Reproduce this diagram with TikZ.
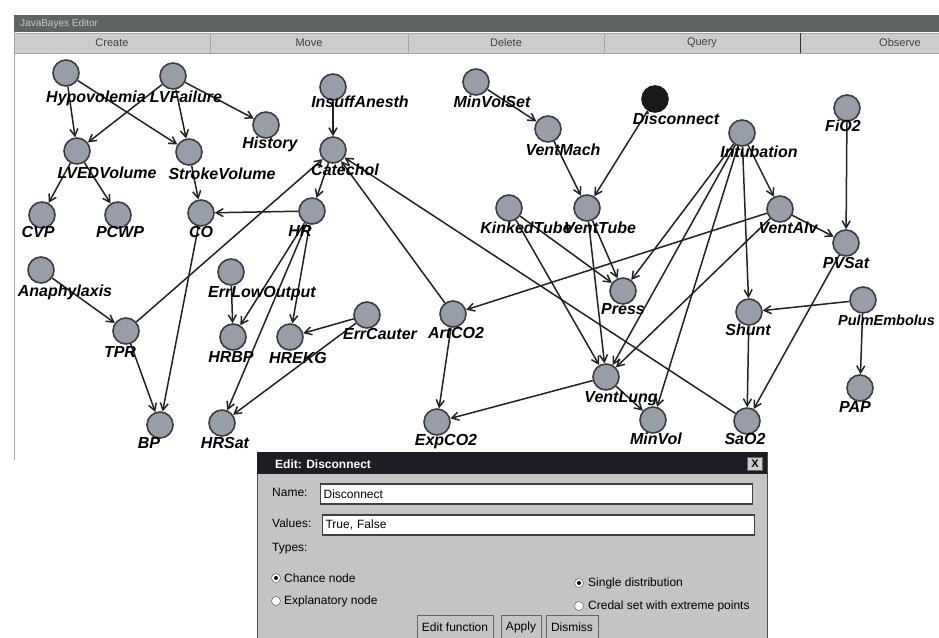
\documentclass[tikz,border=0pt]{standalone}
\usepackage{fontspec}
\setmainfont{Liberation Sans}
\usepackage{tikz}
\usetikzlibrary{arrows.meta}

\definecolor{bnfill}{RGB}{152,158,168}
\definecolor{bnline}{RGB}{58,62,68}
\definecolor{bnblack}{RGB}{25,25,28}
\definecolor{edgecol}{RGB}{34,34,36}
\definecolor{winbar}{RGB}{96,100,100}
\definecolor{btnface}{RGB}{202,204,206}
\definecolor{dlgbar}{RGB}{28,30,36}
\definecolor{dlgface}{RGB}{194,196,198}

\begin{document}
\begin{tikzpicture}[x=1pt, y=-1pt,
  bn/.style={circle, draw=bnline, fill=bnfill, line width=1.6pt,
             minimum size=26pt, inner sep=0pt},
  obs/.style={bn, draw=bnblack, fill=bnblack},
  lbl/.style={font=\fontsize{16}{16}\selectfont\bfseries\itshape,
              inner sep=0pt, text height=11.5pt, text depth=0pt},
  arr/.style={-{Straight Barb[length=7pt, width=8pt]}, line width=1.5pt, edgecol},
  tbtn/.style={draw=gray!70, fill=btnface, minimum height=20pt, inner sep=0pt,
               font=\fontsize{11}{11}\selectfont, text=black!75},
  dtxt/.style={font=\fontsize{12}{12}\selectfont, inner sep=0pt, anchor=west},
  field/.style={dtxt, draw=black!75, fill=white, line width=1.2pt,
                minimum height=20pt, text width=426pt, inner xsep=3pt},
  radio/.style={circle, draw=black!70, fill=white, minimum size=9pt, inner sep=0pt},
  dot/.style={circle, fill=black, minimum size=4pt, inner sep=0pt},
  dbtn/.style={draw=black!60, fill=dlgface, minimum height=24pt, inner xsep=5pt,
               font=\fontsize{12}{12}\selectfont}]
\useasboundingbox (0,0) rectangle (939,637);
\fill[white] (0,0) rectangle (939,637);
% ---- editor window ----
\draw[gray!70, line width=1pt] (14,15) -- (14,460);
\node[fill=winbar, minimum width=925pt, minimum height=17pt, inner sep=0pt,
      anchor=north west] (titlebar) at (14,15) {};
\node[dtxt, font=\fontsize{10}{10}\selectfont, text=gray!45] (title)
  at (20,24) {JavaBayes Editor};
\node[tbtn, minimum width=196pt] (create) at (112,43) {Create};
\node[tbtn, minimum width=198pt] (move) at (309,43) {Move};
\node[tbtn, minimum width=196pt] (delete) at (506,43) {Delete};
\node[tbtn, minimum width=196pt] (query) at (702,43) {Query};
\node[fill=btnface, minimum width=139pt, minimum height=20pt, inner sep=0pt,
      anchor=west] (observe-bg) at (800,43) {};
\draw[gray!70] (observe-bg.north west) -- (observe-bg.north east);
\draw[gray!70] (observe-bg.south west) -- (observe-bg.south east);
\draw[black!80, line width=1pt] (observe-bg.north west) -- (observe-bg.south west);
\node[font=\fontsize{11}{11}\selectfont, text=black!75] (observe) at (900,43) {Observe};
% ---- network nodes ----
\node[bn] (hypo) at (66,73) {};
\node[bn] (lvf) at (173,76) {};
\node[bn] (hist) at (266,125) {};
\node[bn] (insuff) at (333,87) {};
\node[bn] (mvs) at (476,82) {};
\node[bn] (vmach) at (548,129) {};
\node[obs] (disc) at (655,99) {};
\node[bn] (fio2) at (847,108) {};
\node[bn] (intub) at (742,133) {};
\node[bn] (lved) at (77,151) {};
\node[bn] (stroke) at (189,152) {};
\node[bn] (cat) at (333,150) {};
\node[bn] (cvp) at (42,215) {};
\node[bn] (pcwp) at (118,215) {};
\node[bn] (co) at (201,213) {};
\node[bn] (hr) at (312,211) {};
\node[bn] (kink) at (509,208) {};
\node[bn] (vtube) at (587,208) {};
\node[bn] (valv) at (780,209) {};
\node[bn] (pvsat) at (846,243) {};
\node[bn] (ana) at (41,270) {};
\node[bn] (errlow) at (231,272) {};
\node[bn] (press) at (623,291) {};
\node[bn] (errc) at (367,315) {};
\node[bn] (art) at (453,314) {};
\node[bn] (shunt) at (749,312) {};
\node[bn] (pe) at (863,300) {};
\node[bn] (tpr) at (126,331) {};
\node[bn] (hrbp) at (233,337) {};
\node[bn] (hrekg) at (290,337) {};
\node[bn] (vlung) at (606,377) {};
\node[bn] (pap) at (860,388) {};
\node[bn] (bp) at (160,425) {};
\node[bn] (hrsat) at (222,423) {};
\node[bn] (exp) at (437,422) {};
\node[bn] (minvol) at (653,420) {};
\node[bn] (sao2) at (747,421) {};
% ---- arcs ----
\draw[arr] (hypo) -- (lved);
\draw[arr] (hypo) -- (stroke);
\draw[arr] (lvf) -- (lved);
\draw[arr] (lvf) -- (stroke);
\draw[arr] (lvf) -- (hist);
\draw[arr] (lved) -- (cvp);
\draw[arr] (lved) -- (pcwp);
\draw[arr] (stroke) -- (co);
\draw[arr] (hr) -- (co);
\draw[arr] (insuff) -- (cat);
\draw[arr] (cat) -- (hr);
\draw[arr] (tpr) -- (cat);
\draw[arr] (art) -- (cat);
\draw[arr] (sao2) -- (cat);
\draw[arr] (ana) -- (tpr);
\draw[arr] (tpr) -- (bp);
\draw[arr] (co) -- (bp);
\draw[arr] (hr) -- (hrbp);
\draw[arr] (hr) -- (hrekg);
\draw[arr] (hr) -- (hrsat);
\draw[arr] (errlow) -- (hrbp);
\draw[arr] (errc) -- (hrekg);
\draw[arr] (errc) -- (hrsat);
\draw[arr] (mvs) -- (vmach);
\draw[arr] (vmach) -- (vtube);
\draw[arr] (disc) -- (vtube);
\draw[arr] (vtube) -- (press);
\draw[arr] (vtube) -- (vlung);
\draw[arr] (kink) -- (press);
\draw[arr] (kink) -- (vlung);
\draw[arr] (intub) -- (press);
\draw[arr] (intub) -- (vlung);
\draw[arr] (intub) -- (minvol);
\draw[arr] (intub) -- (shunt);
\draw[arr] (intub) -- (valv);
\draw[arr] (valv) -- (vlung);
\draw[arr] (vlung) -- (minvol);
\draw[arr] (vlung) -- (exp);
\draw[arr] (valv) -- (art);
\draw[arr] (valv) -- (pvsat);
\draw[arr] (fio2) -- (pvsat);
\draw[arr] (pvsat) -- (sao2);
\draw[arr] (shunt) -- (sao2);
\draw[arr] (pe) -- (shunt);
\draw[arr] (pe) -- (pap);
\draw[arr] (art) -- (exp);
% ---- node names ----
\node[lbl] (hypo-l) at (96,97) {Hypovolemia};
\node[lbl] (lvf-l) at (186,97) {LVFailure};
\node[lbl] (hist-l) at (270,143) {History};
\node[lbl] (insuff-l) at (360,102) {InsuffAnesth};
\node[lbl] (mvs-l) at (492,102) {MinVolSet};
\node[lbl] (vmach-l) at (563,150) {VentMach};
\node[lbl] (disc-l) at (676,119) {Disconnect};
\node[lbl] (fio2-l) at (843,126) {FiO2};
\node[lbl] (intub-l) at (759,152) {Intubation};
\node[lbl] (lved-l) at (107,173) {LVEDVolume};
\node[lbl] (stroke-l) at (222,174) {StrokeVolume};
\node[lbl] (cat-l) at (345,170) {Catechol};
\node[lbl] (cvp-l) at (38,232) {CVP};
\node[lbl] (pcwp-l) at (120,232) {PCWP};
\node[lbl] (co-l) at (201,232) {CO};
\node[lbl] (hr-l) at (300,231) {HR};
\node[lbl] (kink-l) at (526,228) {KinkedTube};
\node[lbl] (vtube-l) at (600,228) {VentTube};
\node[lbl] (valv-l) at (788,228) {VentAlv};
\node[lbl] (pvsat-l) at (846,263) {PVSat};
\node[lbl] (ana-l) at (65,291) {Anaphylaxis};
\node[lbl] (errlow-l) at (262,292) {ErrLowOutput};
\node[lbl] (press-l) at (623,309) {Press};
\node[lbl] (errc-l) at (380,334) {ErrCauter};
\node[lbl] (art-l) at (456,333) {ArtCO2};
\node[lbl] (shunt-l) at (748,330) {Shunt};
\node[lbl, font=\fontsize{14.5}{14.5}\selectfont\bfseries\itshape, anchor=west]
  (pe-l) at (838,320) {PulmEmbolus};
\node[lbl] (tpr-l) at (120,352) {TPR};
\node[lbl] (hrbp-l) at (231,357) {HRBP};
\node[lbl] (hrekg-l) at (298,358) {HREKG};
\node[lbl] (vlung-l) at (621,397) {VentLung};
\node[lbl] (pap-l) at (855,407) {PAP};
\node[lbl] (bp-l) at (149,443) {BP};
\node[lbl] (hrsat-l) at (225,443) {HRSat};
\node[lbl] (exp-l) at (446,440) {ExpCO2};
\node[lbl] (minvol-l) at (656,439) {MinVol};
\node[lbl] (sao2-l) at (745,439) {SaO2};
% ---- edit dialog ----
\node[draw=black!70, fill=dlgface, minimum width=510pt, minimum height=186pt,
      inner sep=0pt, anchor=north west] (dialog) at (257,452) {};
\node[fill=dlgbar, minimum width=510pt, minimum height=22pt, inner sep=0pt,
      anchor=north west] (dlgbar) at (257,452) {};
\node[dtxt, font=\fontsize{12}{12}\selectfont\bfseries, text=white] (dlgtitle)
  at (275,464) {Edit: Disconnect};
\node[draw=black!60, fill=btnface, minimum width=15pt, minimum height=13pt,
      inner sep=0pt, font=\fontsize{11}{11}\selectfont\bfseries] (close)
  at (755,464) {X};
\node[dtxt] (namelbl) at (272,492) {Name:};
\node[field] (namefld) at (320,494) {Disconnect};
\node[dtxt] (vallbl) at (272,523) {Values:};
\node[field] (valfld) at (322,525) {True, False};
\node[dtxt] (typelbl) at (272,549) {Types:};
\node[radio] (r-chance) at (276,578) {};
\node[dot] at (r-chance) {};
\node[dtxt] (chance) at (284,578) {Chance node};
\node[radio] (r-expl) at (276,601) {};
\node[dtxt] (expl) at (284,601) {Explanatory node};
\node[radio] (r-single) at (579,583) {};
\node[dot] at (r-single) {};
\node[dtxt] (single) at (588,583) {Single distribution};
\node[radio] (r-credal) at (579,606) {};
\node[dtxt] (credal) at (588,606) {Credal set with extreme points};
\node[dbtn] (editfn) at (455,627) {Edit function};
\node[dbtn] (apply) at (521,627) {Apply};
\node[dbtn] (dismiss) at (572,627) {Dismiss};
\end{tikzpicture}
\end{document}
